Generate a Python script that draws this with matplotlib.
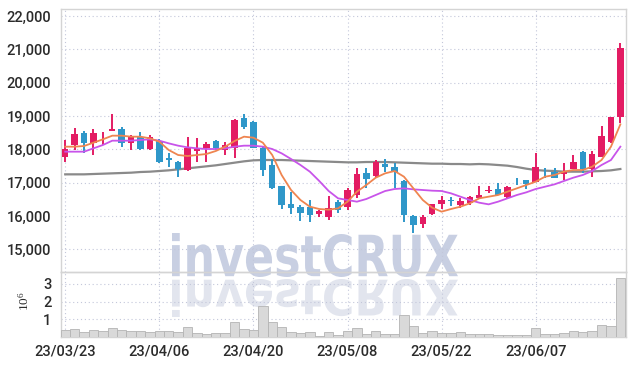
import numpy as np
import matplotlib
matplotlib.use("Agg")
import matplotlib.pyplot as plt
from matplotlib.textpath import TextPath
from matplotlib.patches import PathPatch
from matplotlib.transforms import Affine2D
from matplotlib.font_manager import FontProperties

plt.rcParams["font.family"] = ["Roboto", "DejaVu Sans"]

dates = ["23/03/23", "23/03/24", "23/03/27", "23/03/28", "23/03/29", "23/03/30", "23/03/31",
         "23/04/03", "23/04/04", "23/04/05", "23/04/06", "23/04/07", "23/04/10", "23/04/11",
         "23/04/12", "23/04/13", "23/04/14", "23/04/17", "23/04/18", "23/04/19", "23/04/20",
         "23/04/21", "23/04/24", "23/04/25", "23/04/26", "23/04/27", "23/04/28", "23/05/02",
         "23/05/03", "23/05/04", "23/05/08", "23/05/09", "23/05/10", "23/05/11", "23/05/12",
         "23/05/15", "23/05/16", "23/05/17", "23/05/18", "23/05/19", "23/05/22", "23/05/23",
         "23/05/24", "23/05/25", "23/05/26", "23/05/30", "23/05/31", "23/06/01", "23/06/02",
         "23/06/05", "23/06/07", "23/06/08", "23/06/09", "23/06/12", "23/06/13", "23/06/14",
         "23/06/15", "23/06/16", "23/06/19", "23/06/20"]

opens = [17780, 18130, 18480, 18180, 18390, 18550, 18600, 18200, 18360, 18010,
         18260, 17750, 17630, 17390, 17950, 18030, 18250, 17980, 18050, 18930,
         18830, 18050, 17530, 16900, 16350, 16260, 16260, 16050, 15960, 16430,
         16280, 16630, 17280, 17210, 17550, 17480, 17060, 16000, 15750, 16050,
         16360, 16470, 16330, 16400, 16550, 16750, 16810, 16560, 17030, 17070,
         17030, 17360, 17330, 17250, 17410, 17930, 17400, 17780, 18210, 18960]
highs = [18270, 18650, 18560, 18600, 18530, 19070, 18680, 18430, 18530, 18420,
         18300, 17880, 17660, 18360, 18350, 18210, 18290, 18230, 18910, 19050,
         18850, 18080, 17710, 16900, 16710, 16330, 16480, 16180, 16600, 16480,
         16830, 17450, 17430, 17680, 17710, 17580, 17080, 16030, 16030, 16370,
         16600, 16580, 16530, 16610, 16910, 16910, 16980, 16910, 17130, 17070,
         17880, 17430, 17430, 17600, 17830, 17950, 17950, 18710, 18980, 21200]
lows = [17630, 17980, 17880, 17830, 18130, 18550, 18080, 17980, 17980, 17980,
        17580, 17460, 17160, 17360, 17630, 17630, 17980, 17830, 17750, 18610,
        18030, 17200, 16800, 16200, 16060, 15860, 15830, 15960, 15880, 16100,
        16180, 16550, 16850, 17180, 17330, 16850, 15820, 15490, 15630, 16040,
        16210, 16300, 16250, 16330, 16530, 16680, 16630, 16550, 16930, 16800,
        17030, 17150, 17130, 17080, 17400, 17280, 17180, 17780, 18200, 18800]
closes = [18000, 18450, 18180, 18500, 18410, 18600, 18200, 18360, 18020, 18380,
          17610, 17690, 17410, 18030, 18050, 18160, 18050, 18130, 18880, 18660,
          18050, 17380, 16850, 16330, 16250, 16100, 16030, 16160, 16230, 16180,
          16780, 17250, 17110, 17610, 17470, 17310, 16020, 15720, 15960, 16350,
          16480, 16450, 16450, 16560, 16630, 16780, 16640, 16880, 17010, 16960,
          17460, 17340, 17150, 17310, 17610, 17400, 17850, 18410, 18960, 21040]

# moving averages as drawn on the chart
ma_short = [18080, 18080, 18100, 18200, 18300, 18410, 18410, 18380, 18380, 18330,
            18230, 17980, 17830, 17800, 17830, 17860, 17950, 18080, 18250, 18380,
            18350, 18200, 17830, 17230, 16780, 16480, 16280, 16210, 16190, 16230,
            16430, 16730, 16930, 17150, 17280, 17350, 17180, 16830, 16480, 16250,
            16130, 16210, 16280, 16380, 16530, 16580, 16630, 16730, 16830, 16930,
            17030, 17180, 17230, 17330, 17380, 17380, 17480, 17680, 18080, 18750]
ma_mid = [17930, 17930, 17930, 18030, 18130, 18260, 18260, 18260, 18280, 18300,
          18260, 18180, 18110, 18060, 18030, 18010, 18010, 18030, 18080, 18110,
          18110, 18080, 18010, 17880, 17710, 17530, 17330, 17050, 16750, 16530,
          16480, 16430, 16510, 16630, 16750, 16810, 16830, 16800, 16780, 16760,
          16750, 16680, 16580, 16480, 16400, 16350, 16430, 16530, 16630, 16710,
          16810, 16880, 16950, 17050, 17150, 17230, 17350, 17530, 17680, 18080]
ma_long = [17250, 17250, 17250, 17260, 17270, 17280, 17290, 17300, 17320, 17330,
           17350, 17370, 17400, 17430, 17460, 17490, 17520, 17560, 17600, 17640,
           17670, 17680, 17680, 17680, 17670, 17660, 17650, 17640, 17630, 17620,
           17610, 17610, 17620, 17620, 17620, 17610, 17600, 17590, 17580, 17570,
           17570, 17560, 17560, 17550, 17560, 17550, 17530, 17510, 17470, 17420,
           17380, 17360, 17350, 17330, 17330, 17330, 17340, 17350, 17370, 17410]

volume = [0.41, 0.47, 0.32, 0.41, 0.37, 0.50, 0.41, 0.35, 0.35, 0.30,
          0.35, 0.35, 0.30, 0.56, 0.22, 0.17, 0.24, 0.24, 0.84, 0.47,
          0.41, 1.76, 0.84, 0.56, 0.30, 0.24, 0.30, 0.10, 0.28, 0.13,
          0.35, 0.51, 0.19, 0.35, 0.19, 0.19, 1.25, 0.63, 0.26, 0.35,
          0.26, 0.23, 0.30, 0.19, 0.19, 0.19, 0.11, 0.11, 0.11, 0.11,
          0.51, 0.19, 0.19, 0.26, 0.35, 0.31, 0.37, 0.69, 0.63, 3.31]

price_ticks = [15000, 16000, 17000, 18000, 19000, 20000, 21000, 22000]
vol_ticks = [1, 2, 3]

UP = "#e31c63"
DOWN = "#2f97c9"
GRID = "#c3c7da"
TXT = "#2b2b2b"

fig = plt.figure(figsize=(6.34, 3.66), dpi=100)
ax = fig.add_axes([0.0962, 0.2568, 0.8912, 0.7186])
ax2 = fig.add_axes([0.0962, 0.0784, 0.8912, 0.1784], sharex=ax)
for a in (ax, ax2):
    a.set_facecolor("none")
    for s in a.spines.values():
        s.set_color("#d4d4d4")
        s.set_linewidth(1.0)
    a.grid(True, color=GRID, linestyle=(0, (1, 2.5)), linewidth=0.8)
    a.set_axisbelow(True)
    a.tick_params(length=0, labelsize=10.5, colors=TXT)
    for lab in a.get_yticklabels() + a.get_xticklabels():
        lab.set_fontweight("medium")

x = np.arange(len(closes))
o = np.array(opens); c = np.array(closes)
h = np.array(highs); l = np.array(lows)
up = c >= o
cols = np.where(up, UP, DOWN)

ax.vlines(x, l, h, colors=cols, linewidth=1.4, zorder=3)
body_lo = np.minimum(o, c)
body_h = np.maximum(np.abs(c - o), 25)
ax.bar(x, body_h, bottom=body_lo, width=0.68, color=cols, zorder=4)

ax.plot(x, ma_long, color="#8a8a8a", linewidth=1.6, zorder=2)
ax.plot(x, ma_mid, color="#c854ea", linewidth=1.3, zorder=5)
ax.plot(x, ma_short, color="#ef8550", linewidth=1.3, zorder=5)

ax.set_ylim(14320, 22210)
ax.set_yticks(price_ticks)
ax.set_yticklabels([f"{v:,}" for v in price_ticks], fontweight="medium")
ax.tick_params(axis="y", pad=7)
ax.tick_params(axis="x", labelbottom=False)

ax2.bar(x, volume, width=1.0, color="#d9d9d9", edgecolor="#b4b4b4", linewidth=0.6, zorder=3)
ax2.set_ylim(0, 3.65)
ax2.set_yticks(vol_ticks)
ax2.set_yticklabels([str(v) for v in vol_ticks], fontweight="medium")
ax2.tick_params(axis="y", pad=7)
ax2.set_ylabel(r"$\mathregular{10^6}$", fontsize=9.5, color=TXT, family="Liberation Serif")
ax2.yaxis.set_label_coords(-0.052, 0.56)

ticks = x[::10]
ax2.set_xticks(ticks)
ax2.set_xticklabels([dates[i] for i in ticks], fontweight="medium")
ax2.tick_params(axis="x", pad=5)
ax2.set_xlim(-0.45, len(closes) - 0.4)

# watermark with reflection
tp = TextPath((0, 0), "investCRUX", size=50,
              prop=FontProperties(family="DejaVu Sans", weight="bold"))
bb = tp.get_extents()
x0, x1 = 172, 458
sx = (x1 - x0) / bb.width
tr = Affine2D().translate(-bb.x0, -bb.y0).scale(sx, 44 / bb.height).translate(x0, 366 - 277)
fig.add_artist(PathPatch(tp, transform=tr, facecolor="#c8cfe2", edgecolor="none", zorder=-1))
tr2 = Affine2D().translate(-bb.x0, -bb.y0).scale(sx, -38 / bb.height).translate(x0, 366 - 279)
fig.add_artist(PathPatch(tp, transform=tr2, facecolor="#e2e5ee", edgecolor="none", zorder=-1))

fig.savefig("out.png", dpi=100)
